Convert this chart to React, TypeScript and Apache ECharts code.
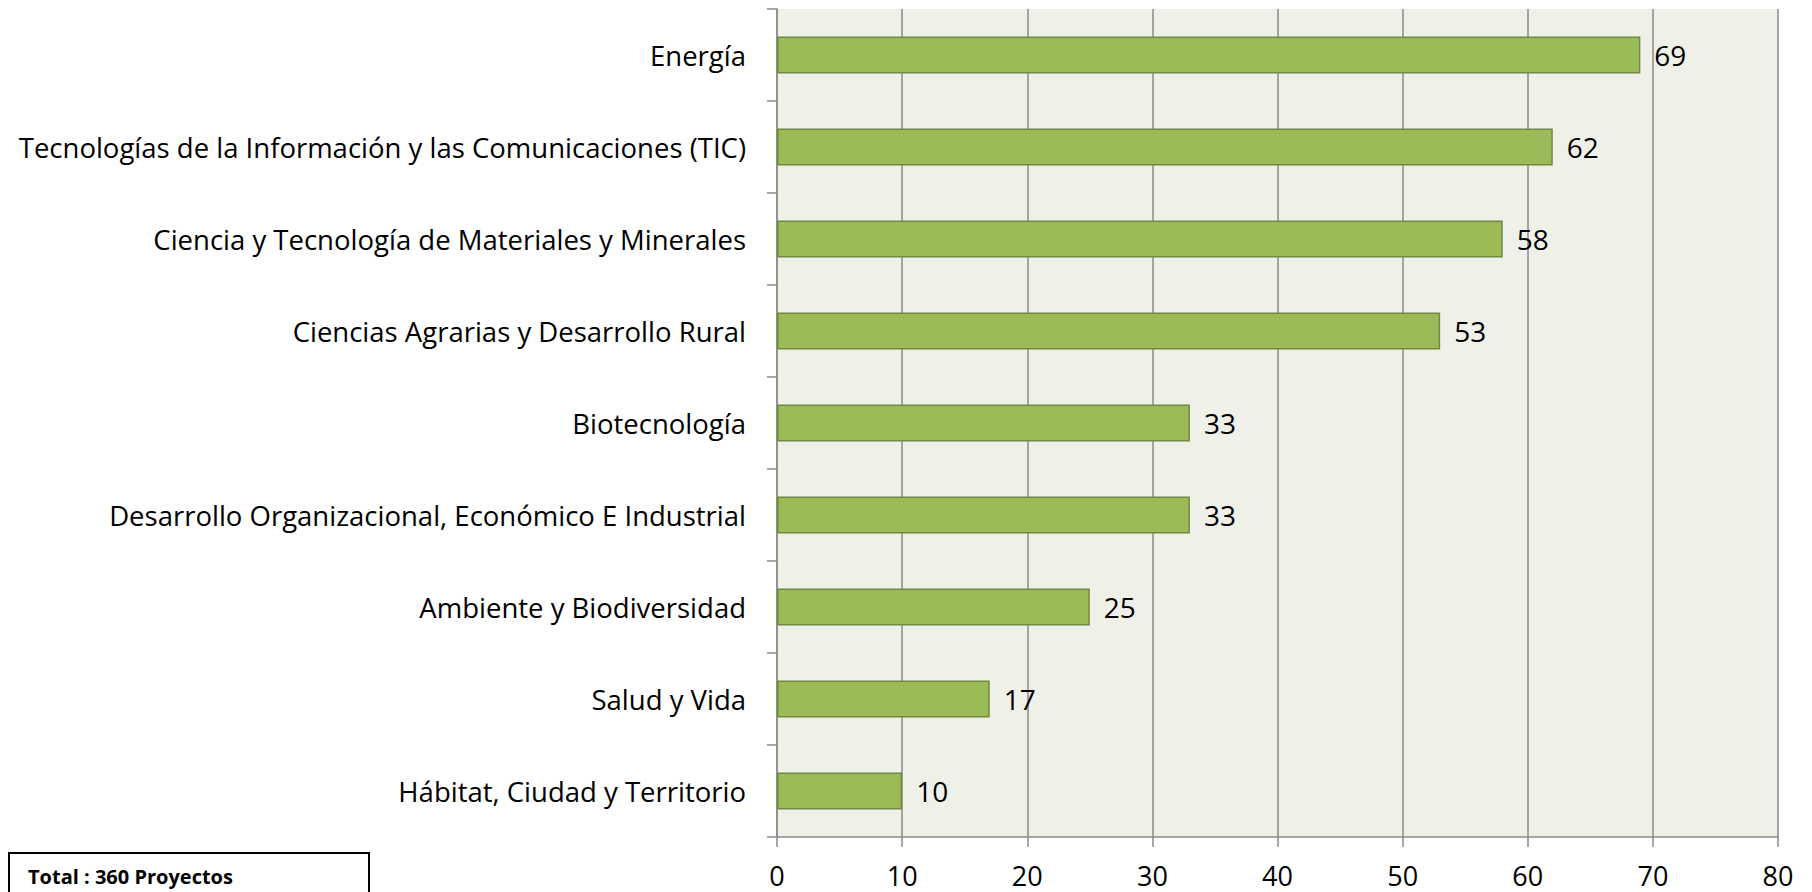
import React, { useEffect, useRef } from "react";
import * as echarts from "echarts";

const categories = [
  "Energía",
  "Tecnologías de la Información y las Comunicaciones (TIC)",
  "Ciencia y Tecnología de Materiales y Minerales",
  "Ciencias Agrarias y Desarrollo Rural",
  "Biotecnología",
  "Desarrollo Organizacional, Económico E Industrial",
  "Ambiente y Biodiversidad",
  "Salud y Vida",
  "Hábitat, Ciudad y Territorio",
];
const values = [69, 62, 58, 53, 33, 33, 25, 17, 10];
const totalText = "Total : 360 Proyectos";
const xMin = 0;
const xMax = 80;
const xInterval = 10;

const FONT = "Open Sans";

export default function App() {
  const ref = useRef<HTMLDivElement>(null);
  useEffect(() => {
    if (!ref.current) return;
    const chart = echarts.init(ref.current, null, { renderer: "svg" });
    chart.setOption({
      animation: false,
      backgroundColor: "#ffffff",
      textStyle: { fontFamily: FONT },
      grid: {
        left: 777,
        right: 34,
        top: 9,
        bottom: 55,
        show: true,
        backgroundColor: "#EFF1E9",
        borderWidth: 0,
      },
      xAxis: {
        type: "value",
        min: xMin,
        max: xMax,
        interval: xInterval,
        axisLine: { show: true, lineStyle: { color: "#8a8a8a", width: 1.5 } },
        axisTick: { show: true, length: 10, lineStyle: { color: "#8a8a8a", width: 1.5 } },
        splitLine: { show: true, lineStyle: { color: "#8a8a8a", width: 1.5 } },
        axisLabel: { color: "#000", fontSize: 27, fontFamily: FONT, margin: 24, lineHeight: 28 },
      },
      yAxis: {
        type: "category",
        inverse: true,
        data: categories,
        axisLine: { show: true, lineStyle: { color: "#8a8a8a", width: 1.5 } },
        axisTick: { show: true, length: 10, lineStyle: { color: "#8a8a8a", width: 1.5 } },
        axisLabel: { color: "#000", fontSize: 27.5, fontFamily: FONT, margin: 31 },
      },
      series: [
        {
          type: "bar",
          data: values,
          barWidth: "40%",
          itemStyle: { color: "#9BBB59", borderColor: "#71893F", borderWidth: 1.5 },
          label: {
            show: true,
            position: "right",
            distance: 14,
            color: "#000",
            fontSize: 28,
            fontFamily: FONT,
          },
        },
      ],
      graphic: [
        {
          type: "rect",
          shape: { x: 9, y: 853, width: 360, height: 60 },
          style: { fill: "#fff", stroke: "#000", lineWidth: 2 },
        },
        {
          type: "text",
          x: 28,
          y: 876,
          style: {
            text: totalText,
            font: `bold 20px ${FONT}`,
            fill: "#000",
            verticalAlign: "middle",
          },
        },
      ],
    });
    return () => chart.dispose();
  }, []);
  return (
    <div
      ref={ref}
      style={{ position: "fixed", left: 0, top: 0, width: 1812, height: 892 }}
    />
  );
}
